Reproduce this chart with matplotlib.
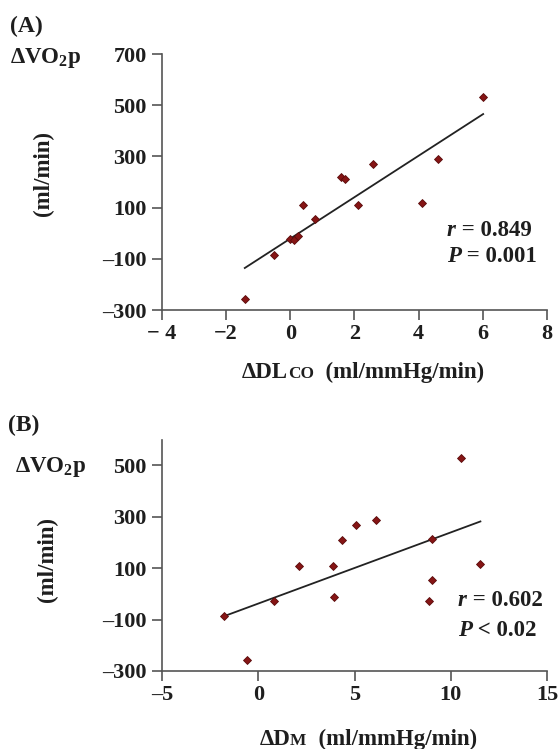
import numpy as np
import matplotlib
matplotlib.use('Agg')
import matplotlib.pyplot as plt
from matplotlib.offsetbox import TextArea, HPacker, AnnotationBbox

# ---- data ----
dlco = [-1.42, -0.51, 0.00, 0.11, 0.24, 0.40, 0.78, 1.57, 1.69, 2.10, 2.59, 4.11, 4.61, 6.01]
vo2_a = [-257, -86, -21, -27, -12, 109, 57, 219, 210, 109, 271, 118, 288, 531]
dm = [-1.80, -0.60, 0.82, 2.12, 3.87, 3.91, 4.33, 5.07, 6.13, 9.01, 9.01, 8.86, 10.53, 11.54]
vo2_b = [-88, -256, -28, 109, 109, -14, 209, 269, 288, 213, 53, -26, 530, 116]

xticks_a = [-4, -2, 0, 2, 4, 6, 8]
xticklabels_a = ['\u2212 4', '\u22122', '0', '2', '4', '6', '8']
yticks_a = [-300, -100, 100, 300, 500, 700]
xticks_b = [-5, 0, 5, 10, 15]
yticks_b = [-300, -100, 100, 300, 500]

stats_a = ('r', ' = 0.849', 'P', ' = 0.001')
stats_b = ('r', ' = 0.602', 'P', ' < 0.02')

W, H = 558, 749
FONT = 'Liberation Serif'
plt.rcParams['font.family'] = [FONT, 'DejaVu Serif']
plt.rcParams['font.weight'] = 'bold'
plt.rcParams['mathtext.fontset'] = 'custom'
plt.rcParams['mathtext.rm'] = 'Liberation Serif:bold'
plt.rcParams['mathtext.default'] = 'regular'

FS = 16.5
TFS = 16
TXT = '#1e1e1e'
SPINE = '#555555'
MARK = '#861515'

fig = plt.figure(figsize=(W / 100, H / 100), dpi=100)


def fx(x):
    return x / W


def fy(y):
    return 1 - y / H


def make_axes(left, right, top, bottom):
    return fig.add_axes([fx(left), fy(bottom), fx(right) - fx(left), fy(top) - fy(bottom)])


def style(ax, xlim, ylim, xticks, yticks, xticklabels=None):
    ax.set_xlim(*xlim)
    ax.set_ylim(*ylim)
    ax.set_xticks(xticks)
    ax.set_yticks(yticks)
    if xticklabels is not None:
        ax.set_xticklabels(xticklabels)
    else:
        ax.set_xticklabels([str(t).replace('-', '\u2013') for t in xticks])
    ax.set_yticklabels([str(t).replace('-', '\u2013') for t in yticks])
    for s in ('top', 'right'):
        ax.spines[s].set_visible(False)
    for s in ('left', 'bottom'):
        ax.spines[s].set_color(SPINE)
        ax.spines[s].set_linewidth(1.2)
    ax.tick_params(direction='out', length=7, width=1.2, color=SPINE,
                   labelsize=TFS)
    ax.tick_params(axis='x', pad=3)
    ax.tick_params(axis='y', pad=4)
    for lab in ax.get_xticklabels() + ax.get_yticklabels():
        lab.set_fontweight('bold')
        lab.set_color(TXT)


def scatter_fit(ax, x, y):
    x = np.asarray(x, float)
    y = np.asarray(y, float)
    k, b = np.polyfit(x, y, 1)
    xs = np.array([x.min(), x.max()])
    ax.plot(xs, k * xs + b, color='#222222', lw=1.3, zorder=2)
    ax.plot(x, y, linestyle='none', marker='D', markersize=4.3,
            markerfacecolor=MARK, markeredgecolor='#5a0c0c', markeredgewidth=0.6,
            zorder=3)


def tarea(txt, size, style_):
    return TextArea(txt, textprops=dict(fontsize=size, fontweight='bold',
                                        fontstyle=style_, family=FONT, color=TXT))


def place(box, xy, align):
    ab = AnnotationBbox(box, (fx(xy[0]), fy(xy[1])), xycoords='figure fraction',
                        box_alignment=align, frameon=False, pad=0)
    fig.add_artist(ab)


def packed(parts, xy, align=(0.5, 0.5), sep=0):
    pk = HPacker(children=[tarea(*p) for p in parts], align='baseline', pad=0, sep=sep)
    place(pk, xy, align)


def xlabel(main, small, rest, xy):
    packed([(main, FS, 'normal'), (small, FS * 0.75, 'normal'), (rest, FS, 'normal')], xy)


def stats(s, x_left, y1, y2):
    packed([(s[0], FS, 'italic'), (s[1], FS, 'normal')], (x_left, y1), (0, 0.5))
    packed([(s[2], FS, 'italic'), (s[3], FS, 'normal')], (x_left, y2), (0, 0.5))


# ---------------- Panel A ----------------
axA = make_axes(162, 547, 54, 310)
style(axA, (-4, 8), (-300, 700), xticks_a, yticks_a, xticklabels_a)
scatter_fit(axA, dlco, vo2_a)

fig.text(fx(10), fy(26), '(A)', fontsize=FS + 0.5, fontweight='bold', va='center',
         ha='left', color=TXT)
fig.text(fx(10), fy(58), '\u0394VO$_2$p', fontsize=FS, fontweight='bold', va='center',
         ha='left', color=TXT)
fig.text(fx(43), fy(174), '(ml/min)', fontsize=FS, fontweight='bold', rotation=90,
         va='center', ha='center', color=TXT)
stats(stats_a, 447, 230, 257)
xlabel('\u0394DL', 'CO', '  (ml/mmHg/min)', (363, 372))

# ---------------- Panel B ----------------
axB = make_axes(162, 547, 439.5, 671)
style(axB, (-5, 15), (-300, 600), xticks_b, yticks_b)
scatter_fit(axB, dm, vo2_b)

fig.text(fx(8), fy(425), '(B)', fontsize=FS + 0.5, fontweight='bold', va='center',
         ha='left', color=TXT)
fig.text(fx(15), fy(467), '\u0394VO$_2$p', fontsize=FS, fontweight='bold', va='center',
         ha='left', color=TXT)
fig.text(fx(47), fy(559), '(ml/min)', fontsize=FS, fontweight='bold', rotation=90,
         va='center', ha='center', color=TXT)
stats(stats_b, 458, 600, 630)
xlabel('\u0394D', 'M', '  (ml/mmHg/min)', (368, 739))

fig.savefig('out.png', dpi=100)
